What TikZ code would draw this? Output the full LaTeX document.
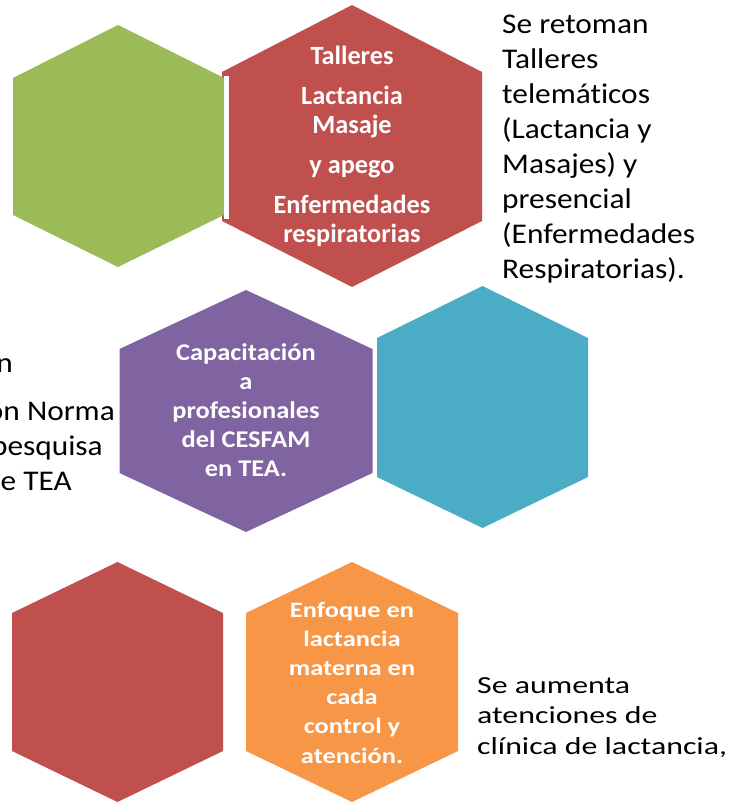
\documentclass[tikz,border=0pt]{standalone}
\usepackage{fontspec}
\defaultfontfeatures{Ligatures={NoCommon,NoContextual}, Contextuals=NoAlternate}
\setmainfont{Carlito}
\newfontfamily\fA[FakeStretch=1.00]{Carlito}
\newfontfamily\fB[FakeStretch=1.10]{Carlito}
\newfontfamily\fC[FakeStretch=1.20]{Carlito}
\newfontfamily\fD[FakeStretch=1.30]{Carlito}
\definecolor{hexgreen}{HTML}{9BBB59}
\definecolor{hexred}{HTML}{C0504D}
\definecolor{hexpurple}{HTML}{8064A2}
\definecolor{hexteal}{HTML}{4BACC6}
\definecolor{hexorange}{HTML}{F79646}
\tikzset{
  hexlabel/.style={text=white, align=center, inner sep=0pt},
  sidetext/.style={text=black, align=left, inner sep=0pt},
  cuttext/.style={text=black, anchor=base east, inner sep=0pt, font=\fB\fontsize{28.5}{35}\selectfont},
}
\begin{document}
\begin{tikzpicture}[x=1pt,y=-1pt]
\useasboundingbox (0,0) rectangle (730,803);
\clip (0,0) rectangle (730,803);
% top row
\fill[hexred] (352,5) -- (482,72) -- (482,221) -- (352,287) -- (222,221) -- (222,72) -- cycle;
\fill[hexgreen] (118,25) -- (224,78) -- (224,215) -- (118,267) -- (13,215) -- (13,78) -- cycle;
\fill[white] (224.3,75.5) rectangle (229.3,218.5);
\node[hexlabel, anchor=base, font=\fA\fontsize{26.3}{29}\selectfont\bfseries] (t1) at (352,242)
  {Talleres\\[11pt]Lactancia\\Masaje\\[11pt]y apego\\[11pt]Enfermedades\\respiratorias};
\node[sidetext, anchor=base west, font=\fB\fontsize{28.5}{35}\selectfont] (t2) at (502,278)
  {Se retoman\\Talleres\\telemáticos\\(Lactancia y\\Masajes) y\\presencial\\(Enfermedades\\Respiratorias).};
% middle row
\fill[hexpurple] (246,290) -- (372.5,349) -- (372.5,473) -- (246,532) -- (119.5,473) -- (119.5,349) -- cycle;
\fill[hexteal] (482.5,286) -- (588,338) -- (588,477) -- (482.5,528) -- (377,477) -- (377,338) -- cycle;
\node[hexlabel, anchor=base, font=\fB\fontsize{24}{29}\selectfont\bfseries] (t3) at (246,476)
  {Capacitación\\a\\profesionales\\del CESFAM\\en TEA.};
\node[cuttext] (l1) at (13,372) {ón};
\node[cuttext] (l2) at (115,420) {ción Norma};
\node[cuttext] (l3) at (103,455) {de pesquisa};
\node[cuttext] (l4) at (72,490) {de TEA};
% bottom row
\fill[hexred] (117.5,562) -- (223,613) -- (223,751) -- (117.5,802) -- (12,751) -- (12,613) -- cycle;
\fill[hexorange] (352,562) -- (458,613) -- (458,751) -- (352,802) -- (246,751) -- (246,613) -- cycle;
\node[hexlabel, anchor=base, font=\fC\fontsize{22}{29.2}\selectfont\bfseries] (t5) at (352,763)
  {Enfoque en\\lactancia\\materna en\\cada\\control y\\atención.};
\node[sidetext, anchor=base west, font=\fD\fontsize{24.5}{30.5}\selectfont] (t6) at (477,754)
  {Se aumenta\\atenciones de\\clínica de lactancia,};
\end{tikzpicture}
\end{document}
